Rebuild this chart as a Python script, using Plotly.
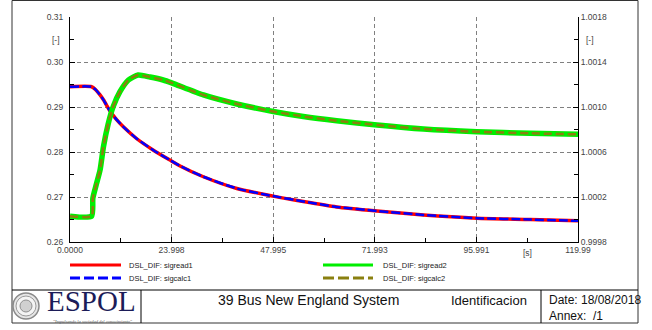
import plotly.graph_objects as go

# ---------------- data ----------------
t1 = [0, 5.1, 6.0, 7.0, 7.9, 9.45, 11.0, 12.6, 15.7, 19.7, 23.6, 26.0, 31.5, 39.4,
      48.0, 55.1, 63.0, 72.5, 83.5, 96.1, 108.7, 119.99]
sigread1 = [0.2945, 0.2945, 0.2939, 0.2928, 0.2916, 0.2891, 0.2872, 0.2856, 0.2830,
            0.2804, 0.2782, 0.2769, 0.2745, 0.2719, 0.2702, 0.2690, 0.2678, 0.2669,
            0.2660, 0.2653, 0.2650, 0.2647]
sigcalc1 = [0.2945, 0.2945, 0.2939, 0.2928, 0.2916, 0.2891, 0.2872, 0.2856, 0.2830,
            0.2804, 0.2782, 0.2769, 0.2745, 0.2719, 0.2702, 0.2690, 0.2678, 0.2669,
            0.2660, 0.2653, 0.2650, 0.2647]

t2 = [0, 5.1, 5.4, 6.2, 7.1, 7.9, 9.05, 10.2, 11.8, 13.8, 16.1, 18.9, 22.0, 24.0,
      31.5, 39.4, 48.0, 55.1, 63.0, 72.5, 83.5, 96.1, 108.7, 119.99]
sigread2 = [1.00003, 1.00003, 1.00019, 1.00031, 1.00044, 1.000647, 1.000855, 1.001003,
            1.001136, 1.00124, 1.001284, 1.001266, 1.00124, 1.001215, 1.001107,
            1.001027, 1.00096, 1.000916, 1.000878, 1.00084, 1.000804, 1.00078,
            1.000766, 1.000757]
sigcalc2 = list(sigread2)

x_ticks = [0, 23.998, 47.995, 71.993, 95.991, 119.99]
x_labels = ["0.0000", "23.998", "47.995", "71.993", "95.991", "119.99"]
x_minor = [11.999, 35.997, 59.994, 83.992, 107.99]
yl_ticks = [0.26, 0.27, 0.28, 0.29, 0.30, 0.31]
yl_labels = ["0.26", "0.27", "0.28", "0.29", "0.30", "0.31"]
yl_minor = [0.265, 0.275, 0.285, 0.295, 0.305]
yr_ticks = [0.9998, 1.0002, 1.0006, 1.0010, 1.0014, 1.0018]
yr_labels = ["0.9998", "1.0002", "1.0006", "1.0010", "1.0014", "1.0018"]
yr_minor = [1.0000, 1.0004, 1.0008, 1.0012, 1.0016]

legend_names = ["DSL_DIF: sigread1", "DSL_DIF: sigcalc1", "DSL_DIF: sigread2", "DSL_DIF: sigcalc2"]

# ---------------- geometry helpers ----------------
W, H = 652, 330
PL, PR, PT, PB = 70, 578, 17, 242


def px(x):
    return (x - PL) / (PR - PL)


def py(y):
    return (PB - y) / (PB - PT)


FONT = "Liberation Sans, Arial, sans-serif"
SERIF = "Liberation Serif, Times New Roman, serif"

RED, BLUE, GREEN, OLIVE = "#ff0000", "#0000ff", "#00ee00", "#8a8010"

fig = go.Figure()
fig.add_trace(go.Scatter(x=t1, y=sigread1, mode="lines", name=legend_names[0],
                         line=dict(color=RED, width=3.5, shape="spline", smoothing=0.6)))
fig.add_trace(go.Scatter(x=t1, y=sigcalc1, mode="lines", name=legend_names[1],
                         line=dict(color=BLUE, width=2.5, dash="9px,3px", shape="spline", smoothing=0.6)))
fig.add_trace(go.Scatter(x=t2, y=sigread2, mode="lines", name=legend_names[2], yaxis="y2",
                         line=dict(color=GREEN, width=5.5, shape="spline", smoothing=0.6)))
fig.add_trace(go.Scatter(x=t2, y=sigcalc2, mode="lines", name=legend_names[3], yaxis="y2",
                         line=dict(color=OLIVE, width=2.5, dash="8px,4px", shape="spline", smoothing=0.6)))

axis_common = dict(
    ticks="inside", ticklen=5, tickcolor="black", tickwidth=1,
    showline=True, linecolor="black", linewidth=1,
    zeroline=False,
    tickfont=dict(family=FONT, size=8.5, color="#444"),
)

fig.update_layout(
    width=W, height=H,
    margin=dict(l=PL, r=W - PR, t=PT, b=H - PB, pad=0),
    paper_bgcolor="white", plot_bgcolor="white",
    showlegend=False,
    font=dict(family=FONT),
    xaxis=dict(range=[0, 119.99], tickmode="array", tickvals=x_ticks, ticktext=x_labels,
               showgrid=True, gridcolor="#808080", gridwidth=1, griddash="4px,3px",
               minor=dict(tickmode="array", tickvals=x_minor, ticks="inside", ticklen=4,
                          tickcolor="black", showgrid=False),
               **axis_common),
    yaxis=dict(range=[0.26, 0.31], tickmode="array", tickvals=yl_ticks, ticktext=yl_labels,
               showgrid=True, gridcolor="#808080", gridwidth=1, griddash="4px,3px",
               ticklabelstandoff=4,
               minor=dict(tickmode="array", tickvals=yl_minor, ticks="inside", ticklen=4,
                          tickcolor="black", showgrid=False),
               **axis_common),
    yaxis2=dict(range=[0.9998, 1.0018], overlaying="y", side="right", tickmode="array",
                tickvals=yr_ticks, ticktext=yr_labels, showgrid=False,
                minor=dict(tickmode="array", tickvals=yr_minor, ticks="inside", ticklen=4,
                           tickcolor="black", showgrid=False),
                **axis_common),
)

ann = []
unit_font = dict(family=FONT, size=8.5, color="#444")
ann.append(dict(text="[-]", xref="paper", x=0, xanchor="right", xshift=-8, yref="y", y=0.305,
                yanchor="middle", showarrow=False, font=unit_font))
ann.append(dict(text="[-]", xref="paper", x=1, xanchor="left", xshift=6, yref="y2", y=1.0016,
                yanchor="middle", showarrow=False, font=unit_font))
ann.append(dict(text="[s]", xref="x", x=x_minor[-1], xanchor="center", yref="paper", y=0,
                yanchor="top", yshift=-4, showarrow=False, font=unit_font))

shapes = []
# legend samples
leg = [
    (70, 121, 265, RED, "solid", legend_names[0], 127),
    (70, 121, 278, BLUE, "10px,4px", legend_names[1], 127),
    (323, 373, 265, GREEN, "solid", legend_names[2], 381),
    (323, 373, 278, OLIVE, "11px,4px", legend_names[3], 381),
]
for x0, x1, yy, col, dsh, name, tx in leg:
    shapes.append(dict(type="line", xref="paper", yref="paper", x0=px(x0), x1=px(x1),
                       y0=py(yy), y1=py(yy), line=dict(color=col, width=3, dash=dsh)))
    ann.append(dict(text=name, xref="paper", yref="paper", x=px(tx), y=py(yy),
                    xanchor="left", yanchor="middle", showarrow=False,
                    font=dict(family=FONT, size=7.5, color="#222")))

# frame
FL, FR, FT, FB, FM = 12, 638, 0.5, 323, 290
frame_line = dict(color="black", width=1)
shapes.append(dict(type="rect", xref="paper", yref="paper", x0=px(FL), x1=px(FR),
                   y0=py(FB), y1=py(FT), line=dict(color="#333", width=1)))
shapes.append(dict(type="line", xref="paper", yref="paper", x0=px(FL), x1=px(FR),
                   y0=py(FM), y1=py(FM), line=frame_line))
for xv in (141, 541):
    shapes.append(dict(type="line", xref="paper", yref="paper", x0=px(xv), x1=px(xv),
                       y0=py(FB), y1=py(FM), line=frame_line))

# seal of the logo
cx, cy = 26, 306
for r, lc, fc, lw in ((13, "#8a8a8a", "#e6e6e6", 1.5), (10, "#9a9a9a", "#f4f4f4", 1), (6, "#8f8f8f", "#d0d0d0", 1)):
    shapes.append(dict(type="circle", xref="paper", yref="paper", x0=px(cx - r), x1=px(cx + r),
                       y0=py(cy + r), y1=py(cy - r), line=dict(color=lc, width=lw), fillcolor=fc))

ann.append(dict(text="ESPOL", xref="paper", yref="paper", x=px(91), y=py(300.5), xanchor="center",
                yanchor="middle", showarrow=False,
                font=dict(family=SERIF, size=29, color="#1c1c58")))
ann.append(dict(text="<i>\"Impulsando la sociedad del conocimiento\"</i>", xref="paper", yref="paper",
                x=px(92), y=py(321), xanchor="center", yanchor="middle", showarrow=False,
                font=dict(family=SERIF, size=4.5, color="#555")))

ann.append(dict(text="39 Bus New England System", xref="paper", yref="paper", x=px(308), y=py(300),
                xanchor="center", yanchor="middle", showarrow=False,
                font=dict(family=FONT, size=14, color="#111")))
ann.append(dict(text="Identificacion", xref="paper", yref="paper", x=px(449), y=py(300),
                xanchor="left", yanchor="middle", showarrow=False,
                font=dict(family=FONT, size=13, color="#111")))
ann.append(dict(text="Date: 18/08/2018", xref="paper", yref="paper", x=px(547), y=py(300),
                xanchor="left", yanchor="middle", showarrow=False,
                font=dict(family=FONT, size=12, color="#111")))
ann.append(dict(text="Annex:  /1", xref="paper", yref="paper", x=px(547), y=py(316),
                xanchor="left", yanchor="middle", showarrow=False,
                font=dict(family=FONT, size=12, color="#111")))

fig.update_layout(shapes=shapes, annotations=ann)
fig.write_html("out.html", config={"displayModeBar": False},
               post_script="document.body.style.margin='0';")
